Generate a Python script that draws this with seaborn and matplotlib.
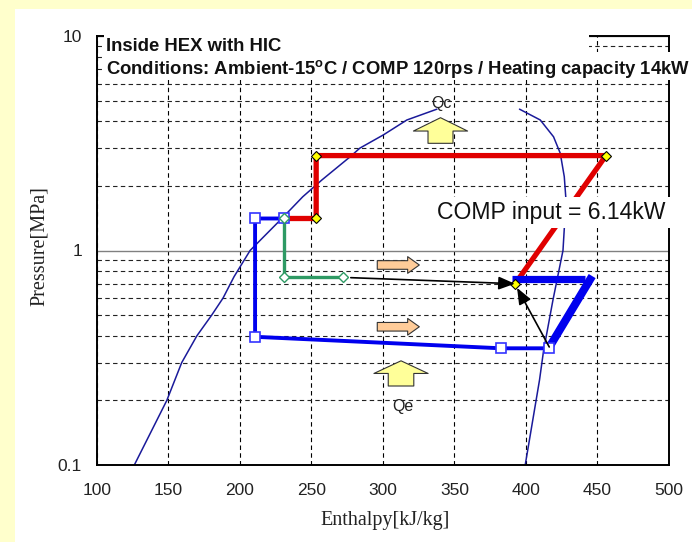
import matplotlib
matplotlib.use("Agg")
import matplotlib.pyplot as plt
import seaborn as sns
import pandas as pd
from matplotlib.patches import Rectangle, FancyArrowPatch, ArrowStyle
from matplotlib.ticker import FixedLocator, NullFormatter

# Saturation dome, enthalpy [kJ/kg] vs pressure [MPa]
liq_h = [126.3, 149.0, 159.4, 170.0, 180.4, 188.3, 196.0, 207.2, 229.4, 244.0, 257.3, 277.0, 283.9, 300.4, 316.8, 337.8]
liq_p = [0.10, 0.20, 0.30, 0.40, 0.50, 0.60, 0.755, 1.00, 1.41, 1.78, 2.13, 2.73, 3.00, 3.46, 4.06, 4.56]
vap_h = [399.5, 409.5, 412.3, 418.9, 425.9, 428.0, 426.8, 424.0, 419.3, 410.0, 395.5]
vap_p = [0.10, 0.249, 0.34, 0.588, 1.00, 1.72, 2.21, 2.84, 3.39, 4.06, 4.56]

# High-pressure side: discharge -> condenser -> HIC outlet
hp_h = [392.5, 455.9, 253.4, 253.4, 231.0]
hp_p = [0.70, 2.77, 2.77, 1.41, 1.41]
# Low-pressure side: expansion -> evaporator -> inside HEX
lp_h = [231.0, 210.7, 210.7, 382.5, 416.3]
lp_p = [1.41, 1.41, 0.396, 0.35, 0.35]
# Compression (thick blue)
cmp_h = [390.2, 441.5]
cmp_p = [0.736, 0.736]
cmp2_h = [417.0, 446.3]
cmp2_p = [0.36, 0.76]
# Injection branch (green)
inj_h = [231.0, 231.0, 272.0]
inj_p = [1.41, 0.755, 0.755]

# Mixing arrows: (start h, start p, end h, end p)
mix_arrows = [(277.6, 0.747, 392.3, 0.70), (416.3, 0.355, 393.8, 0.67)]

x_ticks = [100, 150, 200, 250, 300, 350, 400, 450, 500]
y_ticks = [0.1, 1, 10]
y_tick_labels = ["0.1", "1", "10"]
y_minor = [0.2, 0.3, 0.4, 0.5, 0.6, 0.7, 0.8, 0.9, 2, 3, 4, 5, 6, 7, 8, 9]

title1 = "Inside HEX with HIC"
title2 = r"Conditions: Ambient-15$^{\mathbf{o}}$C / COMP 120rps / Heating capacity 14kW"
comp_text = "COMP input = 6.14kW"

sns.set_theme(style="white")
plt.rcParams["font.family"] = ["Liberation Sans", "DejaVu Sans"]
plt.rcParams["mathtext.fontset"] = "custom"
plt.rcParams["mathtext.bf"] = "Liberation Sans:bold"
plt.rcParams["mathtext.rm"] = "Liberation Sans"

W, H = 692, 542
fig = plt.figure(figsize=(W / 100, H / 100), dpi=100)
fig.patch.set_facecolor("#FFFFCC")
fig.add_artist(Rectangle((15 / W, 0), 1 - 15 / W, 1 - 9 / H, transform=fig.transFigure,
                         facecolor="white", edgecolor="none", zorder=-5))

ax_l, ax_r, ax_t, ax_b = 96.7, 669.0, 36.0, 465.0
ax = fig.add_axes([ax_l / W, 1 - ax_b / H, (ax_r - ax_l) / W, (ax_b - ax_t) / H])
ax.set_facecolor("white")
ax.set_yscale("log")
ax.set_xlim(100, 500)
ax.set_ylim(0.1, 10)

# grid
ax.set_axisbelow(True)
ax.xaxis.set_major_locator(FixedLocator(x_ticks))
ax.yaxis.set_major_locator(FixedLocator(y_ticks))
ax.yaxis.set_minor_locator(FixedLocator(y_minor))
ax.yaxis.set_minor_formatter(NullFormatter())
ax.set_yticklabels(y_tick_labels)
ax.grid(True, which="major", axis="x", color="black", lw=0.8, ls=(0, (4, 3)))
ax.grid(True, which="major", axis="y", color="#808080", lw=1.0, ls="-")
ax.grid(True, which="minor", axis="y", color="#222222", lw=0.8, ls=(0, (4, 3)))
ax.tick_params(which="both", length=0)
ax.tick_params(axis="x", pad=13, labelsize=12.5, labelcolor="#222222")
ax.tick_params(axis="y", pad=10.5, labelsize=12.5, labelcolor="#222222")
for s in ax.spines.values():
    s.set_visible(True)
    s.set_color("black")
    s.set_linewidth(1.4)

# saturation dome
dome_c = "#1a1a9a"
sns.lineplot(x=liq_h, y=liq_p, sort=False, estimator=None, color=dome_c, lw=1.1, ax=ax)
sns.lineplot(x=vap_h, y=vap_p, sort=False, estimator=None, color=dome_c, lw=1.1, ax=ax)

# cycle lines
sns.lineplot(x=hp_h, y=hp_p, sort=False, estimator=None, color="#e00000", lw=3.8, ax=ax, zorder=3)
sns.lineplot(x=lp_h, y=lp_p, sort=False, estimator=None, color="#0000ee", lw=2.8, ax=ax, zorder=4)
sns.lineplot(x=cmp_h, y=cmp_p, sort=False, estimator=None, color="#0000ee", lw=5.2, ax=ax, zorder=4,
             solid_capstyle="butt")
sns.lineplot(x=cmp2_h, y=cmp2_p, sort=False, estimator=None, color="#0000ee", lw=5.8, ax=ax, zorder=4,
             solid_capstyle="butt")
sns.lineplot(x=inj_h, y=inj_p, sort=False, estimator=None, color="#2e9a64", lw=2.4, ax=ax, zorder=4)

# markers
ax.plot(lp_h, lp_p, ls="none", marker="s", ms=7, mfc="white", mec="#3333ff", mew=1.2, zorder=6)
ax.plot(hp_h[:4], hp_p[:4], ls="none", marker="D", ms=5.5, mfc="#ffff00", mec="black", mew=0.8, zorder=6)
ax.plot(inj_h, inj_p, ls="none", marker="D", ms=5.5, mfc="white", mec="#2e9a64", mew=1.0, zorder=7)

# mixing arrows
for h0, p0, h1, p1 in mix_arrows:
    ax.annotate("", xy=(h1, p1), xytext=(h0, p0),
                arrowprops=dict(arrowstyle="-|>,head_length=0.55,head_width=0.22", color="black",
                                lw=1.2, mutation_scale=18, shrinkA=0, shrinkB=0), zorder=8)

# block arrows
def block_arrow(p_from, p_to, hl, hw, tw, fc):
    a = FancyArrowPatch(p_from, p_to, arrowstyle=ArrowStyle("simple", head_length=hl, head_width=hw, tail_width=tw),
                        mutation_scale=1, shrinkA=0, shrinkB=0, facecolor=fc, edgecolor="#333333",
                        lw=0.8, zorder=9)
    ax.add_patch(a)

block_arrow((296.1, 0.856), (325.5, 0.856), 8.4, 12, 6.2, "#FFCC99")
block_arrow((296.1, 0.441), (325.5, 0.441), 8.4, 12, 6.2, "#FFCC99")
block_arrow((340.3, 3.16), (340.3, 4.16), 9.6, 39, 18, "#FFFF99")
block_arrow((312.7, 0.2335), (312.7, 0.306), 9.1, 39, 18.4, "#FFFF99")
ax.text(341.0, 4.82, "Qc", ha="center", va="center", fontsize=11.5, color="#222222", zorder=10)
ax.text(313.9, 0.187, "Qe", ha="center", va="center", fontsize=11.5, color="#222222", zorder=10)

ax.text(338.0, 1.398, comp_text, ha="left", va="baseline", fontsize=16.6, color="#111111", zorder=10,
        bbox=dict(facecolor="white", edgecolor="none", pad=3))

# title panel
fig.add_artist(Rectangle((104 / W, 1 - 52 / H), (589 - 104) / W, 19 / H, transform=fig.transFigure,
                         facecolor="white", edgecolor="none", zorder=2))
fig.add_artist(Rectangle((104 / W, 1 - 80 / H), (W - 104) / W, 28 / H, transform=fig.transFigure,
                         facecolor="white", edgecolor="none", zorder=2))
fig.text(106 / W, 1 - 50.7 / H, title1, ha="left", va="baseline", fontsize=13.3, fontweight="bold",
         color="#111111", zorder=3)
fig.text(106 / W, 1 - 74 / H, title2, ha="left", va="baseline", fontsize=13.3, fontweight="bold",
         color="#111111", zorder=3)

# axis labels
ax.set_xlabel("Enthalpy[kJ/kg]", family="Liberation Serif", fontsize=14.5, color="#222222")
ax.set_ylabel("Pressure[MPa]", family="Liberation Serif", fontsize=14.5, color="#222222")
ax.xaxis.set_label_coords((385 - ax_l) / (ax_r - ax_l), (ax_b - 511) / (ax_b - ax_t))
ax.yaxis.set_label_coords((49 - ax_l) / (ax_r - ax_l), (ax_b - 246) / (ax_b - ax_t))

fig.savefig("out.png", dpi=100, facecolor=fig.get_facecolor())
